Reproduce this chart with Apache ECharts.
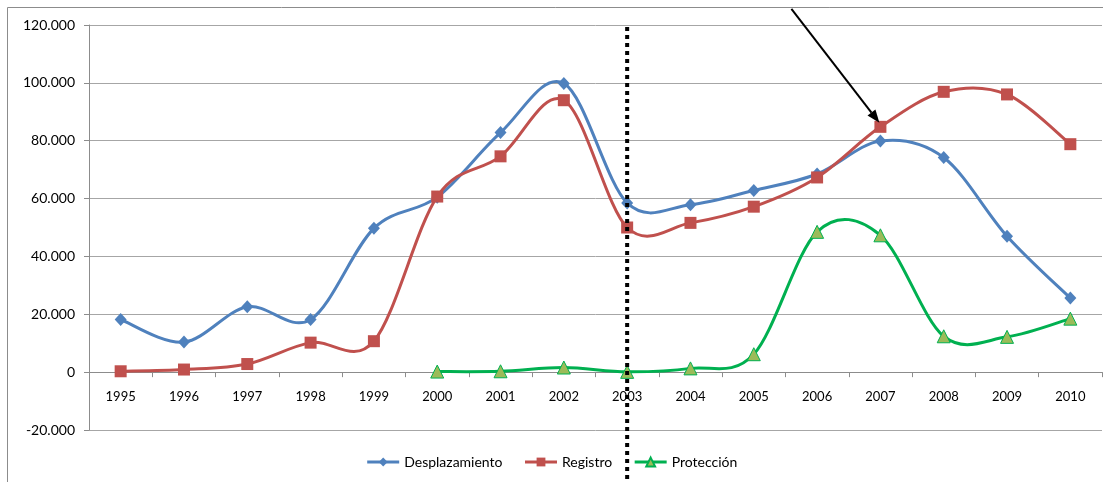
<!DOCTYPE html>
<html>
<head>
<meta charset="utf-8">
<script src="https://cdn.jsdelivr.net/npm/echarts@6/dist/echarts.min.js"></script>
<style>
  html, body { margin: 0; padding: 0; background: #fff; }
  #chart { width: 1103px; height: 482px; }
</style>
</head>
<body>
<div id="chart"></div>
<script>
const years = ['1995', '1996', '1997', '1998', '1999', '2000', '2001', '2002',
  '2003', '2004', '2005', '2006', '2007', '2008', '2009', '2010'];
const desplazamiento = [18200, 10400, 22600, 18200, 49700, 60500, 82800, 99800,
  58500, 57900, 62800, 68500, 79900, 74200, 47000, 25600];
const registro = [300, 900, 2800, 10200, 10700, 60700, 74600, 94000,
  50000, 51600, 57200, 67300, 84800, 96900, 96000, 78800];
const proteccion = ['-', '-', '-', '-', '-', 200, 300, 1600,
  100, 1300, 6200, 48500, 47300, 12400, 12200, 18500];
const yTicks = { min: -20000, max: 120000, step: 20000 };
const markYear = '2003';

const font = 'Lato, "Open Sans", sans-serif';
const colors = { blue: '#4F81BD', red: '#C0504D', green: '#00B050', greenFill: '#9BBB59' };

function fmt(v) {
  if (v === 0) return '0';
  const s = Math.abs(v).toString().replace(/\B(?=(\d{3})+(?!\d))/g, '.');
  return (v < 0 ? '-' : '') + s;
}

// excel-like smoothed line (catmull-rom), points come from the axes via api.coord
function smoothCurve(values, color) {
  return function (params, api) {
    if (params.dataIndex !== 0) return;
    const pts = [];
    values.forEach(function (v, i) {
      if (v !== '-' && v != null) pts.push(api.coord([i, v]));
    });
    const parts = [];
    for (let i = 0; i < pts.length - 1; i++) {
      const p0 = pts[i - 1] || pts[i];
      const p1 = pts[i];
      const p2 = pts[i + 1];
      const p3 = pts[i + 2] || p2;
      parts.push({
        type: 'bezierCurve',
        shape: {
          x1: p1[0], y1: p1[1], x2: p2[0], y2: p2[1],
          cpx1: p1[0] + (p2[0] - p0[0]) / 6, cpy1: p1[1] + (p2[1] - p0[1]) / 6,
          cpx2: p2[0] - (p3[0] - p1[0]) / 6, cpy2: p2[1] - (p3[1] - p1[1]) / 6
        },
        style: { stroke: color, lineWidth: 3, fill: null, lineCap: 'round' }
      });
    }
    return { type: 'group', children: parts };
  };
}

function curveSeries(name, values, color) {
  return {
    name: name,
    type: 'custom',
    data: [[0, 0]],
    z: 1,
    silent: true,
    renderItem: smoothCurve(values, color)
  };
}

function markerSeries(name, values, symbol, size, itemStyle) {
  return {
    name: name,
    type: 'line',
    data: values,
    z: 3,
    symbol: symbol,
    symbolSize: size,
    showAllSymbol: true,
    lineStyle: { opacity: 0 },
    itemStyle: itemStyle
  };
}

const chart = echarts.init(document.getElementById('chart'));

const option = {
  animation: false,
  textStyle: { fontFamily: font },
  grid: { left: 89, right: 1, top: 25, bottom: 52 },
  legend: {
    bottom: 8,
    left: 'center',
    itemWidth: 32,
    itemHeight: 11,
    itemGap: 21,
    textStyle: { fontSize: 14, color: '#000', fontFamily: font },
    data: [
      { name: 'Desplazamiento', lineStyle: { color: colors.blue, width: 3, opacity: 1 } },
      { name: 'Registro', lineStyle: { color: colors.red, width: 3, opacity: 1 } },
      { name: 'Protección', lineStyle: { color: colors.green, width: 3, opacity: 1 } }
    ]
  },
  xAxis: {
    type: 'category',
    data: years,
    boundaryGap: true,
    axisLine: { onZero: false, lineStyle: { color: '#8c8c8c', width: 1 } },
    axisTick: { show: true, interval: 0, length: 5, lineStyle: { color: '#8c8c8c' } },
    axisLabel: { color: '#000', fontSize: 13, margin: 18, interval: 0 },
    splitLine: { show: false }
  },
  yAxis: {
    type: 'value',
    min: yTicks.min,
    max: yTicks.max,
    interval: yTicks.step,
    axisLine: { show: true, lineStyle: { color: '#8c8c8c' } },
    axisTick: { show: true, length: 5, lineStyle: { color: '#8c8c8c' } },
    axisLabel: { color: '#000', fontSize: 14, margin: 14, formatter: fmt },
    splitLine: { lineStyle: { color: '#a6a6a6', width: 1 } }
  },
  series: [
    curveSeries('curve-desplazamiento', desplazamiento, colors.blue),
    markerSeries('Desplazamiento', desplazamiento, 'diamond', [12, 13], { color: colors.blue }),
    curveSeries('curve-registro', registro, colors.red),
    markerSeries('Registro', registro, 'rect', 12, { color: colors.red }),
    curveSeries('curve-proteccion', proteccion, colors.green),
    markerSeries('Protección', proteccion, 'triangle', 13,
      { color: colors.greenFill, borderColor: colors.green, borderWidth: 1 })
  ]
};
chart.setOption(option);

// put the category axis on the zero line
const zeroY = chart.convertToPixel({ yAxisIndex: 0 }, 0);
const minY = chart.convertToPixel({ yAxisIndex: 0 }, yTicks.min);
chart.setOption({ xAxis: { offset: -(minY - zeroY) } });

// dotted marker line at 2003 and the arrow pointing at Registro 2007
const topPt = chart.convertToPixel({ xAxisIndex: 0, yAxisIndex: 0 }, [markYear, yTicks.max]);
const i2007 = years.indexOf('2007');
const target = chart.convertToPixel({ xAxisIndex: 0, yAxisIndex: 0 }, [years[i2007], registro[i2007]]);
const tip = [target[0] - 1, target[1] - 4];
const start = [tip[0] - 88, tip[1] - 114];
const ang = Math.atan2(tip[1] - start[1], tip[0] - start[0]);
const hl = 13, hw = 5;
const base = [tip[0] - hl * Math.cos(ang), tip[1] - hl * Math.sin(ang)];
const head = [
  tip,
  [base[0] + hw * Math.sin(ang), base[1] - hw * Math.cos(ang)],
  [base[0] - hw * Math.sin(ang), base[1] + hw * Math.cos(ang)]
];

chart.setOption({
  graphic: [
    {
      type: 'rect',
      shape: { x: 7.5, y: 7.5, width: 1200, height: 600 },
      style: { fill: 'none', stroke: '#8c8c8c', lineWidth: 1 },
      silent: true,
      z: -10
    },
    {
      type: 'line',
      shape: { x1: topPt[0], y1: topPt[1] + 2, x2: topPt[0], y2: 490 },
      style: { stroke: '#000', lineWidth: 4, lineDash: [4, 4] },
      z: 100
    },
    {
      type: 'line',
      shape: { x1: start[0], y1: start[1], x2: base[0], y2: base[1] },
      style: { stroke: '#000', lineWidth: 2 },
      z: 100
    },
    {
      type: 'polygon',
      shape: { points: head },
      style: { fill: '#000' },
      z: 100
    }
  ]
});
</script>
</body>
</html>
